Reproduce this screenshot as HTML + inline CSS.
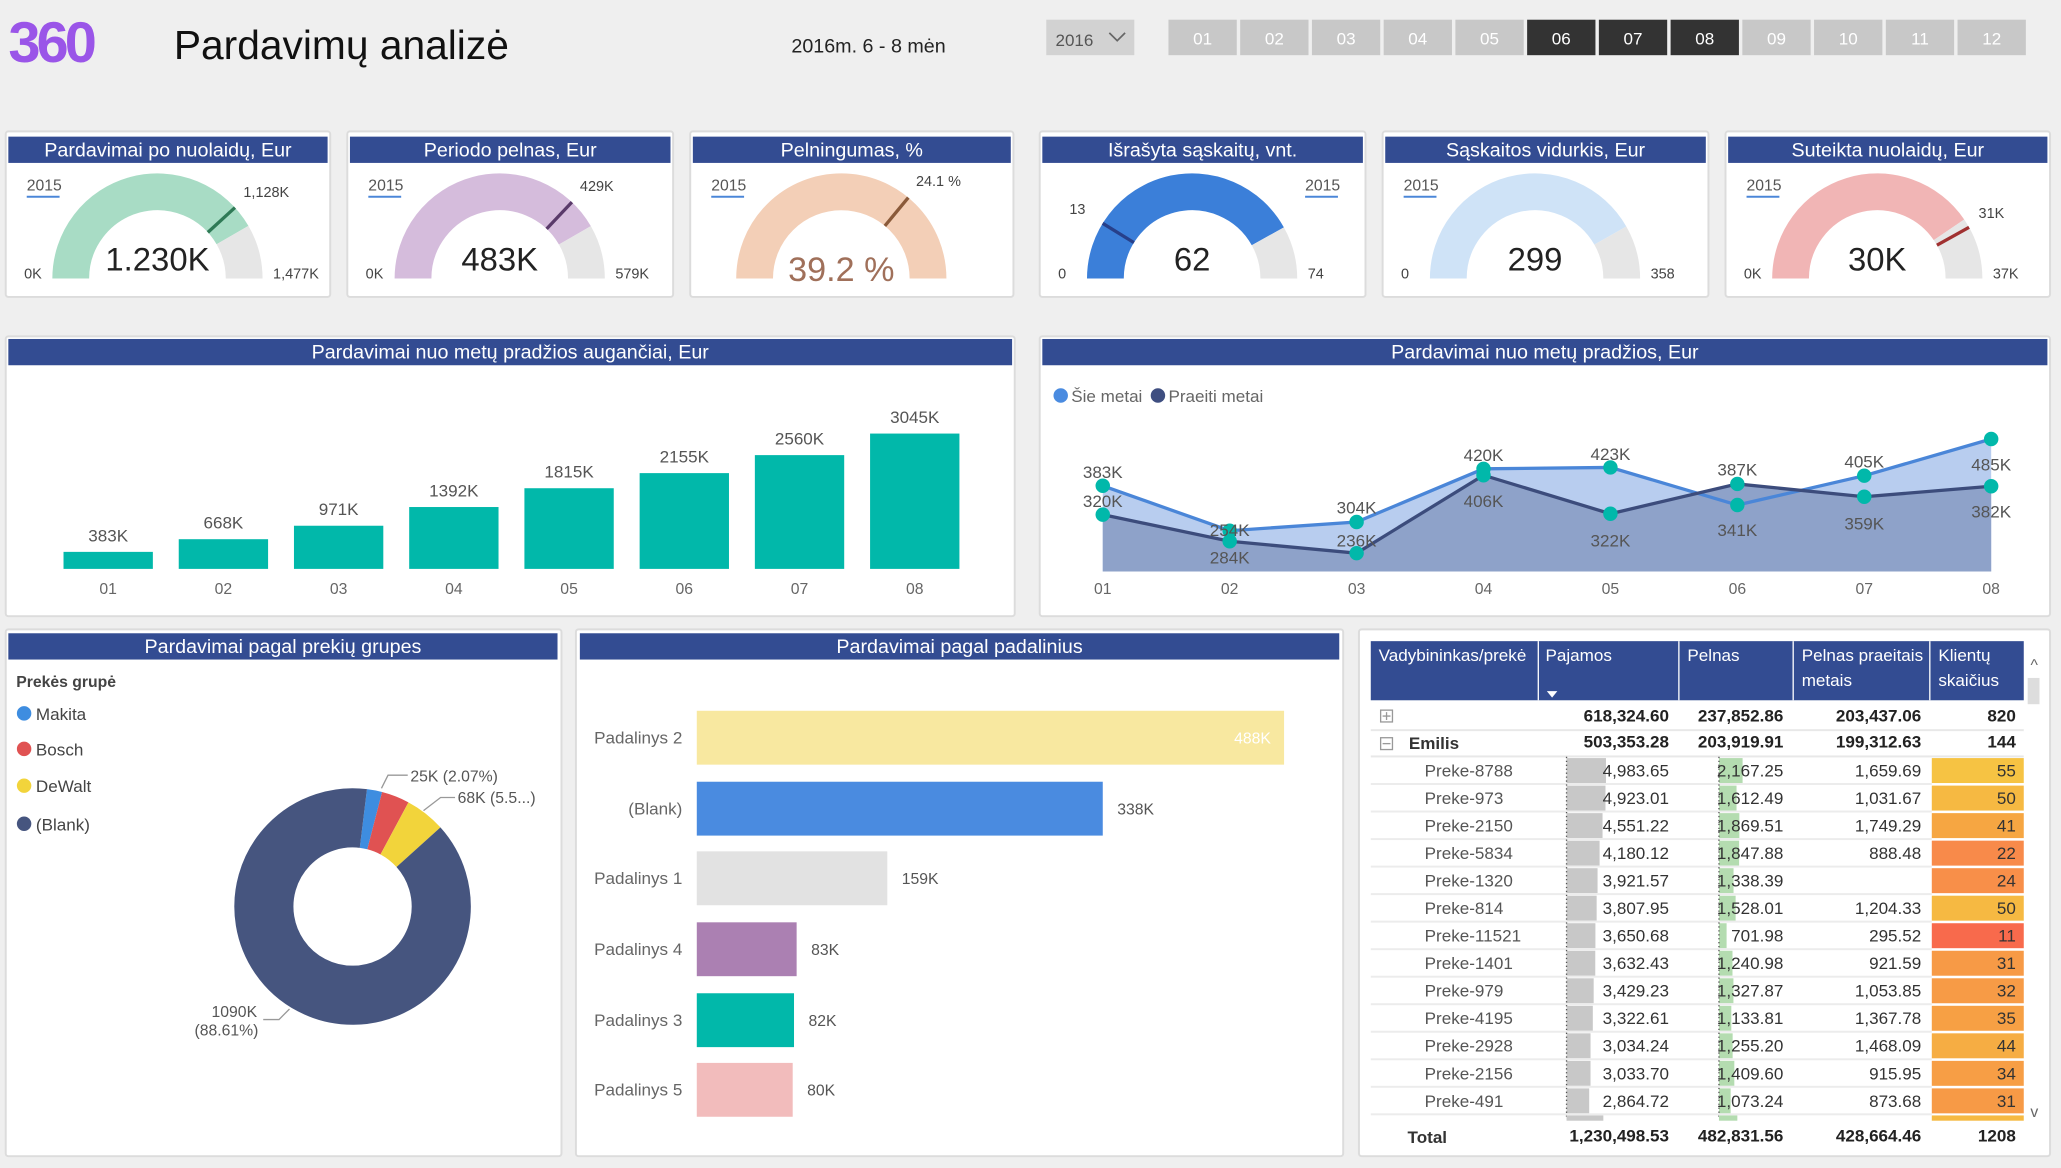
<!DOCTYPE html>
<html><head><meta charset="utf-8">
<style>
html,body{margin:0;padding:0;background:#efefef;}
svg{display:block;font-family:"Liberation Sans",sans-serif;}
</style></head>
<body>
<svg id="s" width="2061" height="1168" viewBox="0 0 1568 889" xmlns="http://www.w3.org/2000/svg"></svg>
<script>
var o=[];
function t(x,y,s,size,fill,anchor,extra){o.push('<text x="'+x+'" y="'+y+'" font-size="'+size+'" fill="'+(fill||'#333')+'" text-anchor="'+(anchor||'start')+'" '+(extra||'')+'>'+s+'</text>');}
function r(x,y,w,h,f,extra){o.push('<rect x="'+x+'" y="'+y+'" width="'+w+'" height="'+h+'" fill="'+f+'" '+(extra||'')+'/>');}
o.push('<rect width="1568" height="889" fill="#efefef"/>');
t(6,47,'360',44,'#9a55e8','start','font-weight="bold" letter-spacing="-3"');
t(132,45,'Pardavimų analizė',31,'#111');
t(602,40,'2016m. 6 - 8 mėn',15,'#222');
r(796,15,67,27,'#d2d2d2');t(803,35,'2016',13,'#555');
o.push('<path d="M844 25 L850 31 L856 25" stroke="#666" fill="none" stroke-width="1.3"/>');
for(var i=0;i<12;i++){var x=889+i*54.6;var dk=(i>=5&&i<=7);r(x,15,52,27,dk?'#333':'#c8c8c8');t(x+26,34,(i<9?'0':'')+(i+1),13,'#fff','middle');}
var cards=[[4,251],[264,512],[525,771],[791,1039],[1052,1300],[1313,1560]];
var titles=['Pardavimai po nuolaidų, Eur','Periodo pelnas, Eur','Pelningumas, %','Išrašyta sąskaitų, vnt.','Sąskaitos vidurkis, Eur','Suteikta nuolaidų, Eur'];
function card(x1,y1,x2,y2){r(x1,y1,x2-x1,y2-y1,'#fff','stroke="#dcdcdc" stroke-width="1.5" rx="2"');}
function hdr(x1,y1,x2,h,s){r(x1,y1,x2-x1,h,'#334c92');t((x1+x2)/2,y1+h-5,s,15,'#fff','middle');}
function pt(cx,cy,rr,f){var a=Math.PI*(1-f);return [cx+rr*Math.cos(a),cy-rr*Math.sin(a)];}
function arc(cx,cy,f1,f2,col){var a=pt(cx,cy,66,f1),b=pt(cx,cy,66,f2);o.push('<path d="M'+a[0]+' '+a[1]+' A66 66 0 0 1 '+b[0]+' '+b[1]+'" stroke="'+col+'" stroke-width="28" fill="none"/>');}
function mark(cx,cy,f,col){var a=pt(cx,cy,52,f),b=pt(cx,cy,80,f);o.push('<line x1="'+a[0]+'" y1="'+a[1]+'" x2="'+b[0]+'" y2="'+b[1]+'" stroke="'+col+'" stroke-width="2.5"/>');}
var g=[
 {f:0.833,c:'#a8dcc5',m:0.764,mc:'#2f7a56',v:'1.230K',mn:'0K',mx:'1,477K',tg:'1,128K',vc:'#222'},
 {f:0.834,c:'#d5bcdc',m:0.741,mc:'#5a3a6a',v:'483K',mn:'0K',mx:'579K',tg:'429K',vc:'#222'},
 {f:1,c:'#f3cfb7',m:0.72,mc:'#8a5a3a',v:'39.2 %',mn:'',mx:'',tg:'24.1 %',vc:'#a0705a'},
 {f:0.838,c:'#3b7fd9',m:0.176,mc:'#27408a',v:'62',mn:'0',mx:'74',tg:'13',vc:'#222',right:1},
 {f:0.835,c:'#cfe3f7',m:-1,v:'299',mn:'0',mx:'358',tg:'',vc:'#222'},
 {f:0.81,c:'#f1b5b5',m:0.838,mc:'#a03030',v:'30K',mn:'0K',mx:'37K',tg:'31K',vc:'#222'}];
for(var i=0;i<6;i++){var c=cards[i];card(c[0],100,c[1],226);hdr(c[0]+2,104,c[1]-2,20,titles[i]);
 var cx=(c[0]+c[1])/2-8,cy=212,G=g[i];
 arc(cx,cy,0,G.f,G.c);if(G.f<1)arc(cx,cy,G.f,1,'#e6e6e6');
 if(G.m>=0)mark(cx,cy,G.m,G.mc);
 var lx=G.right?c[1]-46:c[0]+16;t(lx,145,'2015',12,'#555');r(lx,149,25,1.5,'#4a86d8');
 t(cx,i==2?214:206,G.v,i==2?26:25,G.vc,'middle');
 if(G.mn)t(c[0]+14,212,G.mn,11,'#444');if(G.mx)t(cx+88,212,G.mx,11,'#444');
 if(G.tg){var p=pt(cx,cy,86,G.m);t(p[0]+(G.m>0.5?2:-8),p[1]-4,G.tg,11,'#444',G.m>0.5?'start':'end');}
}
card(4,256,772,469);hdr(6,258,770,20,'Pardavimai nuo metų pradžios augančiai, Eur');
var bv=[383,668,971,1392,1815,2155,2560,3045];
for(var i=0;i<8;i++){var x=82+i*87.7,h=bv[i]*103/3045;r(x-34,433-h,68,h,'#01b8aa');t(x,433-h-8,bv[i]+'K',13,'#555','middle');t(x,452,'0'+(i+1),12,'#666','middle');}
card(791,256,1560,469);hdr(793,258,1558,20,'Pardavimai nuo metų pradžios, Eur');
o.push('<circle cx="807" cy="301" r="5.5" fill="#4a8be0"/>');t(815,306,'Šie metai',13,'#666');
o.push('<circle cx="881" cy="301" r="5.5" fill="#3e4e80"/>');t(889,306,'Praeiti metai',13,'#666');
var A=[383,285,304,420,423,341,405,485],B=[320,262,236,406,322,387,359,382];
function Y(v){return 435-0.349*(v-196);}function X(i){return 839+i*96.6;}
function poly(arr){var s='';for(var i=0;i<8;i++)s+=(i?' L':'M')+X(i)+' '+Y(arr[i]);return s;}
o.push('<path d="'+poly(A)+' L'+X(7)+' 435 L'+X(0)+' 435Z" fill="#b8cdef"/>');
o.push('<path d="'+poly(B)+' L'+X(7)+' 435 L'+X(0)+' 435Z" fill="#8ea2c9"/>');
o.push('<path d="'+poly(A)+'" stroke="#4a86d8" stroke-width="2.5" fill="none"/>');
o.push('<path d="'+poly(B)+'" stroke="#3c4c7c" stroke-width="2.5" fill="none"/>');
var L=[['383K',359,'320K',381],['254K',403,'284K',424],['304K',386,'236K',411],['420K',346,'406K',381],['423K',345,'322K',411],['387K',357,'341K',403],['405K',351,'359K',398],['485K',353,'382K',389]];
for(var i=0;i<8;i++){[A[i],B[i]].forEach(function(v){o.push('<circle cx="'+X(i)+'" cy="'+Y(v)+'" r="5.5" fill="#01b8aa"/>');});
 t(X(i),L[i][1]+5,L[i][0],13,'#555','middle');t(X(i),L[i][3]+5,L[i][2],13,'#555','middle');
 t(X(i),452,'0'+(i+1),12,'#666','middle');}
card(4,479,427,880);hdr(6,482,424,20,'Pardavimai pagal prekių grupes');
t(12,523,'Prekės grupė',12,'#444','start','font-weight="bold"');
[['Makita','#3e8de0',543],['Bosch','#e05252',570],['DeWalt','#f2d43b',598],['(Blank)','#46557f',627]].forEach(function(l){o.push('<circle cx="18" cy="'+l[2]+'" r="5.5" fill="'+l[1]+'"/>');t(27,l[2]+5,l[0],13,'#444');});
var cx=268,cy=690,start=7/360,segs=[[0.0207,'#3e8de0'],[0.0382,'#e05252'],[0.055,'#f2d43b'],[0.8861,'#46557f']];
var acc=start;segs.forEach(function(sg){var a1=acc*2*Math.PI,a2=(acc+sg[0])*2*Math.PI;acc+=sg[0];var R=67.5;
 var x1=cx+R*Math.sin(a1),y1=cy-R*Math.cos(a1),x2=cx+R*Math.sin(a2),y2=cy-R*Math.cos(a2);
 o.push('<path d="M'+x1+' '+y1+' A'+R+' '+R+' 0 '+(sg[0]>0.5?1:0)+' 1 '+x2+' '+y2+'" stroke="'+sg[1]+'" stroke-width="45" fill="none"/>');});
t(312,595,'25K (2.07%)',12,'#555');t(348,611,'68K (5.5...)',12,'#555');
o.push('<path d="M290 600 L295 590 L310 590 M322 617 L335 607 L346 607 M220 768 L212 776 L200 776" stroke="#999" fill="none"/>');
t(178,774,'1090K',12,'#555','middle');t(172,788,'(88.61%)',12,'#555','middle');
card(438,479,1022,880);hdr(441,482,1019,20,'Pardavimai pagal padalinius');
[['Padalinys 2',541,977,'#f8e8a0','488K'],['(Blank)',595,839,'#4a8be0','338K'],['Padalinys 1',648,675,'#e2e2e2','159K'],['Padalinys 4',702,606,'#ab80b2','83K'],['Padalinys 3',756,604,'#01b8aa','82K'],['Padalinys 5',809,603,'#f2bcbc','80K']].forEach(function(b,i){
 r(530,b[1],b[2]-530,41,b[3]);t(519,b[1]+25,b[0],13,'#666','end');
 if(i==0)t(967,b[1]+25,b[4],12,'#fff','end');else t(b[2]+11,b[1]+25,b[4],12,'#555');});
card(1034,479,1560,880);
r(1043,488,497,45,'#334c92');
[1170,1277,1364,1468].forEach(function(x){r(x,488,1,45,'#fff');});
t(1049,503,'Vadybininkas/prekė',13,'#fff');t(1176,503,'Pajamos',13,'#fff');t(1284,503,'Pelnas',13,'#fff');
t(1371,503,'Pelnas praeitais',13,'#fff');t(1371,522,'metais',13,'#fff');t(1475,503,'Klientų',13,'#fff');t(1475,522,'skaičius',13,'#fff');
o.push('<path d="M1177 526 L1185 526 L1181 531Z" fill="#fff"/>');
r(1543,516,9,20,'#ddd');t(1548,510,'^',12,'#666','middle');t(1548,850,'v',12,'#666','middle');
function row(y,cells,bold){var fw=bold?'font-weight="bold"':'';t(1270,y+4,cells[0],13,'#222','end',fw);t(1357,y+4,cells[1],13,'#222','end',fw);t(1462,y+4,cells[2],13,'#222','end',fw);t(1534,y+4,cells[3],13,'#222','end',fw);}
row(545,['618,324.60','237,852.86','203,437.06','820'],1);
o.push('<rect x="1050.5" y="540.5" width="9" height="9" fill="#fff" stroke="#999"/><path d="M1052 545 H1058 M1055 542 V548" stroke="#999"/>');
r(1043,555,497,1.5,'#e8e8e8');
row(565,['503,353.28','203,919.91','199,312.63','144'],1);t(1072,570,'Emilis',13,'#333','start','font-weight="bold"');
o.push('<rect x="1050.5" y="561.5" width="9" height="9" fill="#fff" stroke="#999"/><path d="M1052 566 H1058" stroke="#999"/>');
r(1043,575,497,1.5,'#e8e8e8');
var D=[['Preke-8788','4,983.65',4983,'2,167.25',2167,'1,659.69','55','#f6c343'],['Preke-973','4,923.01',4923,'1,612.49',1612,'1,031.67','50','#f6b942'],['Preke-2150','4,551.22',4551,'1,869.51',1869,'1,749.29','41','#f6a642'],['Preke-5834','4,180.12',4180,'1,847.88',1847,'888.48','22','#f88a4a'],['Preke-1320','3,921.57',3921,'1,338.39',1338,'','24','#f88f49'],['Preke-814','3,807.95',3807,'1,528.01',1528,'1,204.33','50','#f6b942'],['Preke-11521','3,650.68',3650,'701.98',701,'295.52','11','#f86a4c'],['Preke-1401','3,632.43',3632,'1,240.98',1240,'921.59','31','#f79a46'],['Preke-979','3,429.23',3429,'1,327.87',1327,'1,053.85','32','#f79b46'],['Preke-4195','3,322.61',3322,'1,133.81',1133,'1,367.78','35','#f7a044'],['Preke-2928','3,034.24',3034,'1,255.20',1255,'1,468.09','44','#f6ad43'],['Preke-2156','3,033.70',3033,'1,409.60',1409,'915.95','34','#f79e45'],['Preke-491','2,864.72',2864,'1,073.24',1073,'873.68','31','#f79a46']];
D.forEach(function(d,i){var y=576+i*20.95;
 r(1470,y+1,70,19,d[7]);
 r(1192,y+1,d[2]/4983*30,19,'#c8c8c8');r(1308,y+1,d[4]/2167*18,19,'#b4dcb0');
 t(1084,y+15,d[0],13,'#555');t(1270,y+15,d[1],13,'#333','end');t(1357,y+15,d[3],13,'#333','end');t(1462,y+15,d[5],13,'#333','end');t(1534,y+15,d[6],13,'#333','end');
 r(1043,y+20,427,1.5,'#ececec');});
o.push('<line x1="1192" y1="576" x2="1192" y2="852" stroke="#555" stroke-dasharray="1,2"/><line x1="1308" y1="576" x2="1308" y2="852" stroke="#555" stroke-dasharray="1,2"/>');
r(1192,849,28,4,'#c8c8c8');r(1308,849,14,4,'#b4dcb0');r(1470,849,70,4,'#f6b942');
t(1071,870,'Total',13,'#333','start','font-weight="bold"');
row(865,['1,230,498.53','482,831.56','428,664.46','1208'],1);
document.getElementById('s').innerHTML=o.join('');
</script>
</body></html>
